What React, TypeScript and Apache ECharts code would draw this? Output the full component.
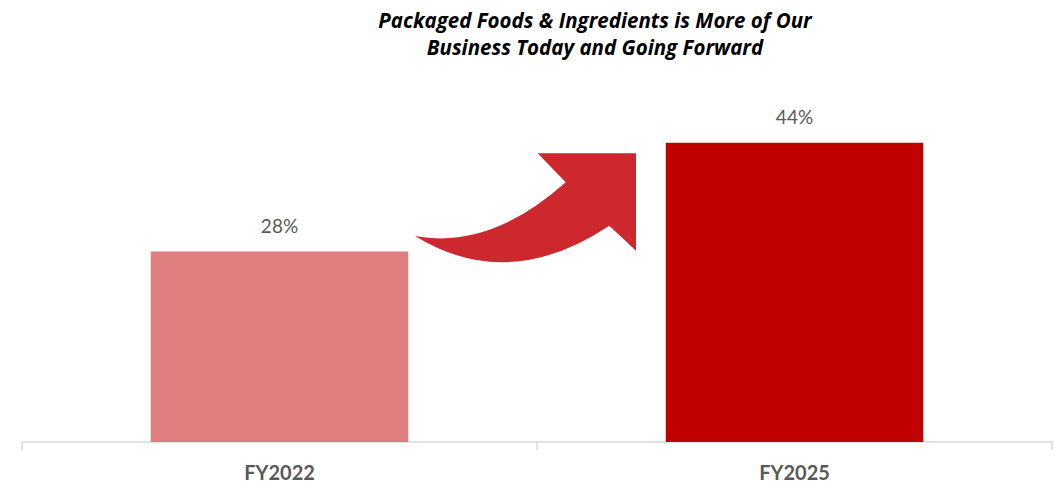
import React, { useEffect, useRef } from "react";
import * as echarts from "echarts";

const categories = ["FY2022", "FY2025"];
const values = [28, 44];
const barColors = ["#de7e7e", "#c00000"];
const titleText = "Packaged Foods & Ingredients is More of Our\nBusiness Today and Going Forward";

const arrowPath =
  "M415 236 Q490 250 565.7 182.3 L537.7 153.3 L636 153.3 L636 250.7 L609.3 225.7 Q507.9 293.2 415 236 Z";

export default function App() {
  const ref = useRef<HTMLDivElement>(null);
  useEffect(() => {
    if (!ref.current) return;
    try {
      echarts.graphic.registerShape("logo", echarts.graphic.extendPath(arrowPath, {}));
    } catch (e) {}
    const chart = echarts.init(ref.current, null, { renderer: "svg" });
    chart.setOption({
      animation: false,
      backgroundColor: "#ffffff",
      title: {
        text: titleText,
        left: 590,
        top: 1,
        textAlign: "center",
        textStyle: {
          fontFamily: "Open Sans",
          fontStyle: "italic",
          fontWeight: "bold",
          fontSize: 20.5,
          lineHeight: 27,
          color: "#000000",
        },
      },
      grid: { left: 22, right: 4, top: 34, bottom: 43, containLabel: false },
      xAxis: {
        type: "category",
        data: categories,
        axisLine: { show: true, lineStyle: { color: "#d9d9d9", width: 1.5 } },
        axisTick: { show: true, length: 8, lineStyle: { color: "#d9d9d9", width: 1.5 } },
        axisLabel: {
          margin: 20,
          fontFamily: "Lato",
          fontWeight: "bold",
          fontSize: 20,
          color: "#595959",
        },
      },
      yAxis: {
        type: "value",
        min: 0,
        max: 60,
        show: false,
        splitLine: { show: false },
      },
      series: [
        {
          type: "bar",
          barWidth: "50%",
          data: values.map((v, i) => ({ value: v, itemStyle: { color: barColors[i] } })),
          label: {
            show: true,
            position: "top",
            distance: 17,
            formatter: "{c}%",
            fontFamily: "Lato",
            fontSize: 19,
            color: "#595959",
          },
        },
      ],
      graphic: [
        {
          type: "logo",
          x: 0,
          y: 0,
          scaleX: 1,
          scaleY: 1,
          style: { fill: "#cc282e" },
          z: 100,
        },
      ],
    });
    return () => chart.dispose();
  }, []);
  return (
    <div
      ref={ref}
      style={{ position: "fixed", left: 0, top: 0, width: 1056, height: 485 }}
    />
  );
}
